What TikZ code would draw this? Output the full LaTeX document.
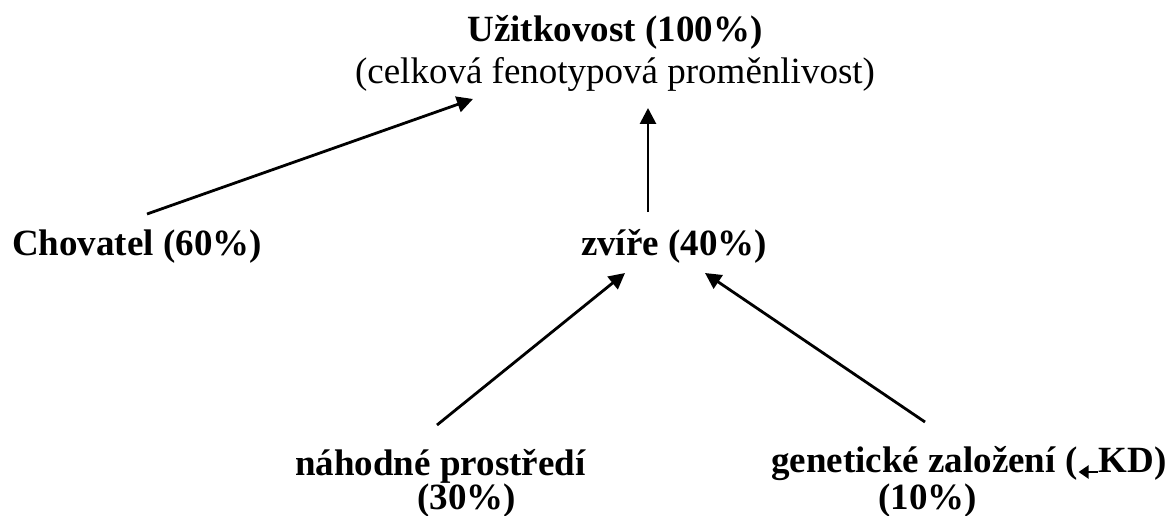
\documentclass[tikz,border=0pt]{standalone}
\usepackage{fontspec}
\setmainfont{Liberation Serif}
\usetikzlibrary{arrows.meta}
\begin{document}
\begin{tikzpicture}[x=1pt,y=-1pt,
  lbl/.style={inner sep=0pt, font=\fontsize{37}{42}\selectfont\bfseries},
  sub/.style={inner sep=0pt, font=\fontsize{37}{42}\selectfont},
  conn/.style={line width=2.8pt, -{Triangle[length=16pt,width=16pt]}},
  smallarr/.style={line width=2.4pt, -{Triangle[length=10pt,width=13pt]}}]
\useasboundingbox (0,0) rectangle (1173,516);
\node[lbl, anchor=base] (u) at (615,42) {Užitkovost (100\%)};
\node[sub, anchor=base] (cf) at (615,84) {(celková fenotypová proměnlivost)};
\node[lbl, anchor=base west] (ch) at (12,255) {Chovatel (60\%)};
\node[lbl, anchor=base] (zv) at (674,255) {zvíře (40\%)};
\node[lbl, anchor=base west] (np) at (295,475) {náhodné prostředí};
\node[lbl, anchor=base west] (p30) at (417,509) {(30\%)};
\node[lbl, anchor=base west] (gz) at (771,472) {genetické založení (\tikz[baseline=0pt]\draw[smallarr] (19pt,0pt) -- (0pt,0pt);KD)};
\node[lbl, anchor=base west] (p10) at (878,509) {(10\%)};
\coordinate (chA) at (147,214);
\coordinate (uA) at (473,99);
\coordinate (zvTop) at (648,212);
\coordinate (uB) at (648,108);
\coordinate (npA) at (437,425);
\coordinate (zvL) at (625,273);
\coordinate (gzA) at (925,422);
\coordinate (zvR) at (705,273);
\draw[conn] (chA) -- (uA);
\draw[conn] (zvTop) -- (uB);
\draw[conn] (npA) -- (zvL);
\draw[conn] (gzA) -- (zvR);
\end{tikzpicture}
\end{document}
